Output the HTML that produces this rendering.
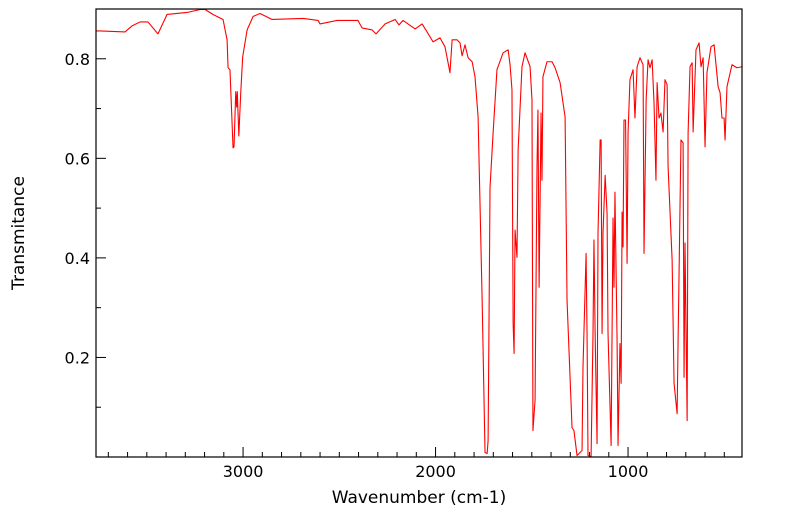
<!DOCTYPE html>
<html><head><meta charset="utf-8"><style>
html,body{margin:0;padding:0;background:#fff;}
svg{display:block;font-family:"DejaVu Sans","Liberation Sans",sans-serif;}
</style></head><body>
<svg id="chart" width="799" height="516">
<g id="axes"></g>
<path id="series" fill="none" stroke="#ff0000" stroke-width="1.1" stroke-linejoin="round"></path>
<rect x="96" y="9" width="646" height="448" fill="none" stroke="#000" stroke-width="1.2"></rect>
<text x="419" y="503" font-size="17" text-anchor="middle">Wavenumber (cm-1)</text>
<text x="24" y="233" font-size="17" text-anchor="middle" transform="rotate(-90 24 233)">Transmitance</text>
</svg>
<script>
const wavenumbers=[3764,3743,3613,3577,3535,3494,3442,3395,3291,3223,3197,3156,3104,3083,3078,3068,3052,3047,3038,3033,3030,3022,3012,3002,2979,2948,2912,2849,2688,2610,2600,2512,2403,2382,2356,2330,2309,2262,2210,2190,2169,2106,2070,2044,2013,1977,1951,1925,1914,1888,1873,1862,1847,1831,1810,1795,1779,1758,1743,1732,1727,1717,1701,1681,1649,1623,1613,1603,1597,1592,1587,1577,1571,1551,1535,1509,1499,1494,1483,1473,1468,1462,1452,1447,1442,1421,1395,1379,1353,1327,1317,1291,1281,1265,1239,1234,1218,1213,1208,1192,1182,1177,1171,1161,1156,1145,1140,1135,1130,1119,1109,1104,1088,1078,1073,1068,1057,1052,1042,1036,1031,1026,1021,1013,1005,1000,990,974,964,953,938,922,917,906,896,886,875,865,855,849,839,829,818,808,797,792,771,761,745,740,725,714,709,704,693,688,678,667,662,647,631,621,610,600,590,569,553,532,522,512,501,496,486,460,434,408];
const transmittance=[0.856,0.856,0.854,0.866,0.874,0.874,0.850,0.889,0.893,0.899,0.899,0.889,0.879,0.838,0.782,0.778,0.621,0.623,0.734,0.703,0.734,0.645,0.732,0.804,0.858,0.885,0.891,0.879,0.881,0.877,0.870,0.877,0.877,0.862,0.860,0.858,0.850,0.870,0.879,0.868,0.877,0.860,0.870,0.854,0.834,0.842,0.824,0.772,0.838,0.838,0.832,0.806,0.828,0.802,0.794,0.764,0.683,0.315,0.009,0.007,0.033,0.542,0.651,0.778,0.812,0.818,0.788,0.738,0.268,0.208,0.456,0.401,0.617,0.784,0.812,0.784,0.717,0.053,0.114,0.583,0.697,0.341,0.691,0.556,0.764,0.794,0.794,0.782,0.752,0.683,0.315,0.059,0.053,0.003,0.013,0.180,0.409,0.248,0.003,0.001,0.248,0.436,0.248,0.027,0.450,0.637,0.637,0.248,0.450,0.566,0.490,0.248,0.023,0.480,0.341,0.532,0.234,0.023,0.228,0.148,0.492,0.422,0.677,0.677,0.389,0.651,0.758,0.778,0.681,0.784,0.802,0.788,0.409,0.717,0.798,0.782,0.798,0.711,0.556,0.752,0.681,0.691,0.653,0.758,0.748,0.583,0.395,0.148,0.087,0.234,0.637,0.631,0.160,0.430,0.073,0.651,0.784,0.792,0.653,0.818,0.832,0.784,0.802,0.623,0.772,0.824,0.828,0.744,0.732,0.681,0.681,0.637,0.744,0.788,0.782,0.784];
const xTickValues=[3000,2000,1000];
const xTickLabels=["3000","2000","1000"];
const yTickValues=[0.2,0.4,0.6,0.8];
const yTickLabels=["0.2","0.4","0.6","0.8"];

const X0=96,X1=742,Y0=9,Y1=457,WMAX=3764,WMIN=408,TMIN=0,TMAX=0.9;
function xs(w){return X0+(WMAX-w)/(WMAX-WMIN)*(X1-X0);}
function ys(t){return Y1-(t-TMIN)/(TMAX-TMIN)*(Y1-Y0);}
const NS="http://www.w3.org/2000/svg";
const axes=document.getElementById('axes');
function line(x1,y1,x2,y2,name){const l=document.createElementNS(NS,'line');l.setAttribute('x1',x1);l.setAttribute('y1',y1);l.setAttribute('x2',x2);l.setAttribute('y2',y2);l.setAttribute('stroke','#000');l.setAttribute('stroke-width','1');


axes.appendChild(l);}
function text(x,y,s,anchor,name){const t=document.createElementNS(NS,'text');t.setAttribute('x',x);t.setAttribute('y',y);t.setAttribute('font-size','16');t.setAttribute('text-anchor',anchor);t.textContent=s;


axes.appendChild(t);}
for(let w=500;w<=3700;w+=100){const x=xs(w);const major=w%1000===0;line(x,Y1,x,Y1-(major?10:5),'x-tick');}
for(let t=0.1;t<0.9;t+=0.1){const y=ys(t);const major=Math.round(t*10)%2===0;line(X0,y,X0+(major?10:5),y,'y-tick');}
xTickValues.forEach((v,i)=>text(xs(v),477,xTickLabels[i],'middle','x-tick-label'));
yTickValues.forEach((v,i)=>text(X0-6,ys(v)+6,yTickLabels[i],'end','y-tick-label'));
let d='';
wavenumbers.forEach((w,i)=>{d+=(i?'L':'M')+xs(w).toFixed(2)+' '+ys(transmittance[i]).toFixed(2);});
document.getElementById('series').setAttribute('d',d);
</script>
</body></html>
